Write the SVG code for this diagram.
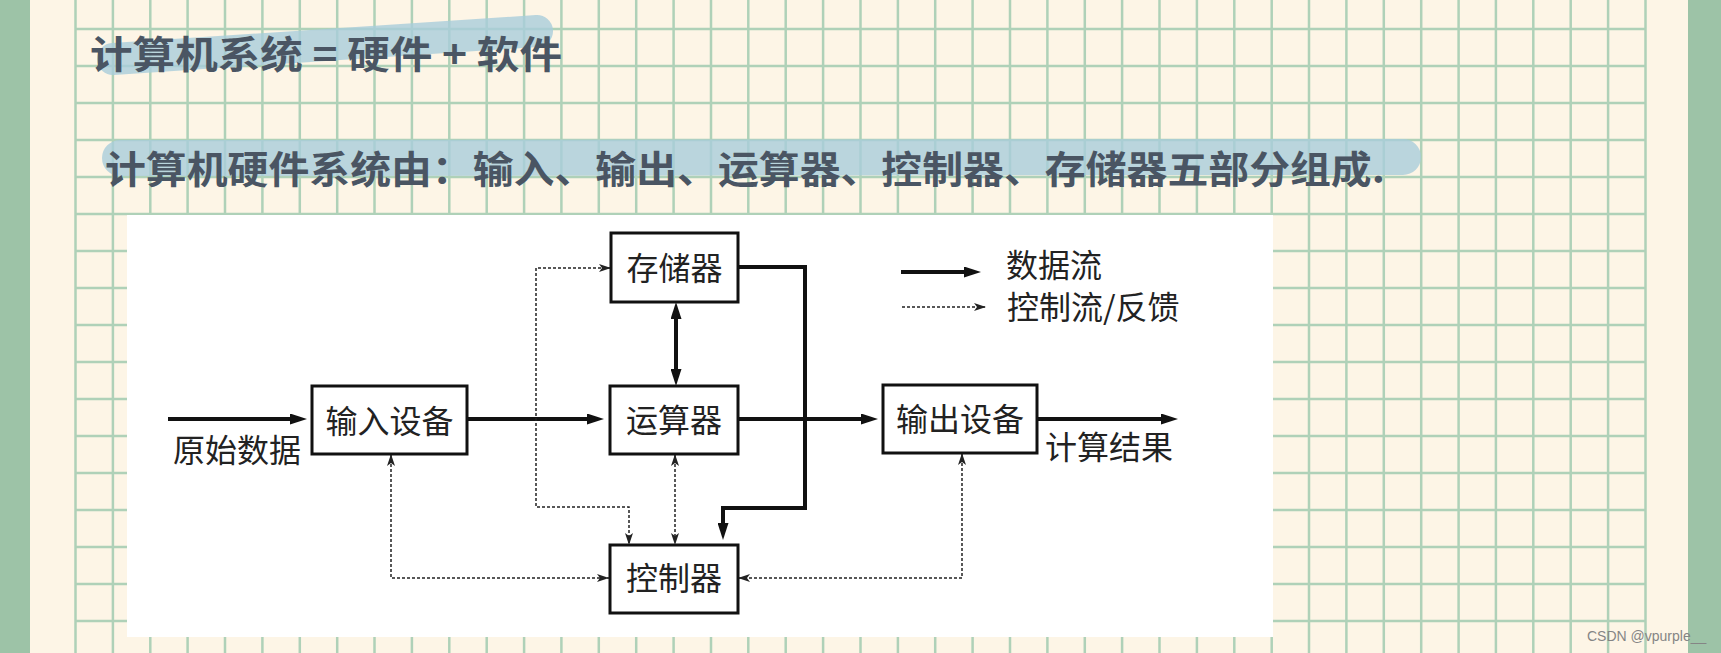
<svg xmlns="http://www.w3.org/2000/svg" width="1721" height="653" viewBox="0 0 1721 653">
<style>
.grid{stroke:#afd1b8;stroke-width:2.5;fill:none}
.box{fill:#fff;stroke:#111;stroke-width:3}
.lbl{font-family:"Noto Sans CJK SC","Noto Sans CJK JP",sans-serif;font-size:32px;fill:#222}
.hand{font-family:"Noto Sans CJK SC","Noto Sans CJK JP",sans-serif;font-weight:700;fill:#4a5563}
.thick{stroke:#111;stroke-width:4;fill:none}
.dash{stroke:#222;stroke-width:1.5;stroke-dasharray:3 2;fill:none}
.bar{stroke:#a9cddb;stroke-opacity:0.8;stroke-linecap:round;fill:none}
</style>
<defs>
<marker id="ah" markerUnits="userSpaceOnUse" viewBox="0 0 17 11" markerWidth="17" markerHeight="11" refX="5" refY="5.5" orient="auto-start-reverse"><path d="M0,0 L17,5.5 L0,11 z" fill="#111"/></marker>
<marker id="ad" markerUnits="userSpaceOnUse" viewBox="0 0 12 8" markerWidth="12" markerHeight="8" refX="12" refY="4" orient="auto-start-reverse"><path d="M0,0 L12,4 L0,8 L3,4 z" fill="#222"/></marker>
</defs>

<g id="paper">
<rect x="0" y="0" width="1721" height="653" fill="#fdf5e6"/>
<rect x="0" y="0" width="30" height="653" fill="#9dc3a7"/>
<rect x="1688" y="0" width="33" height="653" fill="#9dc3a7"/>
<path class="grid" d="M75.5,0V653M112.9,0V653M150.3,0V653M187.6,0V653M225,0V653M262.4,0V653M299.8,0V653M337.2,0V653M374.5,0V653M411.9,0V653M449.3,0V653M486.7,0V653M524.1,0V653M561.4,0V653M598.8,0V653M636.2,0V653M673.6,0V653M711,0V653M748.3,0V653M785.7,0V653M823.1,0V653M860.5,0V653M897.9,0V653M935.2,0V653M972.6,0V653M1010,0V653M1047.4,0V653M1084.8,0V653M1122.1,0V653M1159.5,0V653M1196.9,0V653M1234.3,0V653M1271.7,0V653M1309,0V653M1346.4,0V653M1383.8,0V653M1421.2,0V653M1458.6,0V653M1495.9,0V653M1533.3,0V653M1570.7,0V653M1608.1,0V653M1645.5,0V653"/>
<path class="grid" d="M75.5,29H1645.5M75.5,66H1645.5M75.5,103H1645.5M75.5,140H1645.5M75.5,177H1645.5M75.5,214H1645.5M75.5,251H1645.5M75.5,288H1645.5M75.5,325H1645.5M75.5,362H1645.5M75.5,399H1645.5M75.5,436H1645.5M75.5,473H1645.5M75.5,510H1645.5M75.5,547H1645.5M75.5,584H1645.5M75.5,621H1645.5"/>
</g>

<g id="notes">
<line class="bar" x1="113" y1="59" x2="537" y2="31" stroke-width="32"/>
<line class="bar" x1="120" y1="158" x2="1403" y2="157" stroke-width="36"/>
<text class="hand" x="90" y="68" font-size="38" textLength="472" lengthAdjust="spacingAndGlyphs">计算机系统 = 硬件 + 软件</text>
<text class="hand" x="105" y="183" font-size="38" textLength="1280" lengthAdjust="spacingAndGlyphs">计算机硬件系统由：输入、输出、运算器、控制器、存储器五部分组成.</text>
</g>

<rect id="canvas" x="127" y="215" width="1146" height="422" fill="#fff"/>

<g id="connectors">
<path class="thick" d="M168,419H295" marker-end="url(#ah)"/>
<path class="thick" d="M467,419H592" marker-end="url(#ah)"/>
<path class="thick" d="M738,419H866" marker-end="url(#ah)"/>
<path class="thick" d="M1037,419H1166" marker-end="url(#ah)"/>
<path class="thick" d="M738,267H805V508H723V528" marker-end="url(#ah)"/>
<path class="thick" d="M676,314V374" marker-start="url(#ah)" marker-end="url(#ah)"/>
<path class="dash" d="M611,268H536V507H629V545" marker-start="url(#ad)" marker-end="url(#ad)"/>
<path class="dash" d="M675,454V545" marker-start="url(#ad)" marker-end="url(#ad)"/>
<path class="dash" d="M391,454V578H609" marker-start="url(#ad)" marker-end="url(#ad)"/>
<path class="dash" d="M962,453V578H738" marker-start="url(#ad)" marker-end="url(#ad)"/>
</g>

<g id="memory"><rect class="box" x="611" y="233" width="127" height="69"/><text class="lbl" x="674.5" y="280" text-anchor="middle">存储器</text></g>
<g id="alu"><rect class="box" x="610" y="386" width="128" height="68"/><text class="lbl" x="674" y="432" text-anchor="middle">运算器</text></g>
<g id="input"><rect class="box" x="312" y="386" width="155" height="68"/><text class="lbl" x="389.5" y="433" text-anchor="middle">输入设备</text></g>
<g id="output"><rect class="box" x="883" y="385" width="154" height="68"/><text class="lbl" x="960" y="431" text-anchor="middle">输出设备</text></g>
<g id="controller"><rect class="box" x="610" y="545" width="128" height="68"/><text class="lbl" x="674" y="590" text-anchor="middle">控制器</text></g>

<g id="labels">
<text class="lbl" x="173" y="462">原始数据</text>
<text class="lbl" x="1045" y="459">计算结果</text>
</g>

<g id="legend">
<path class="thick" d="M901,272H969" marker-end="url(#ah)"/>
<path class="dash" d="M902,307H986" marker-end="url(#ad)"/>
<text class="lbl" x="1006" y="277">数据流</text>
<text class="lbl" x="1007" y="319">控制流/反馈</text>
</g>

<text x="1587" y="641" font-family="Liberation Sans, sans-serif" font-size="14" fill="#858585">CSDN @vpurple__</text>
</svg>
